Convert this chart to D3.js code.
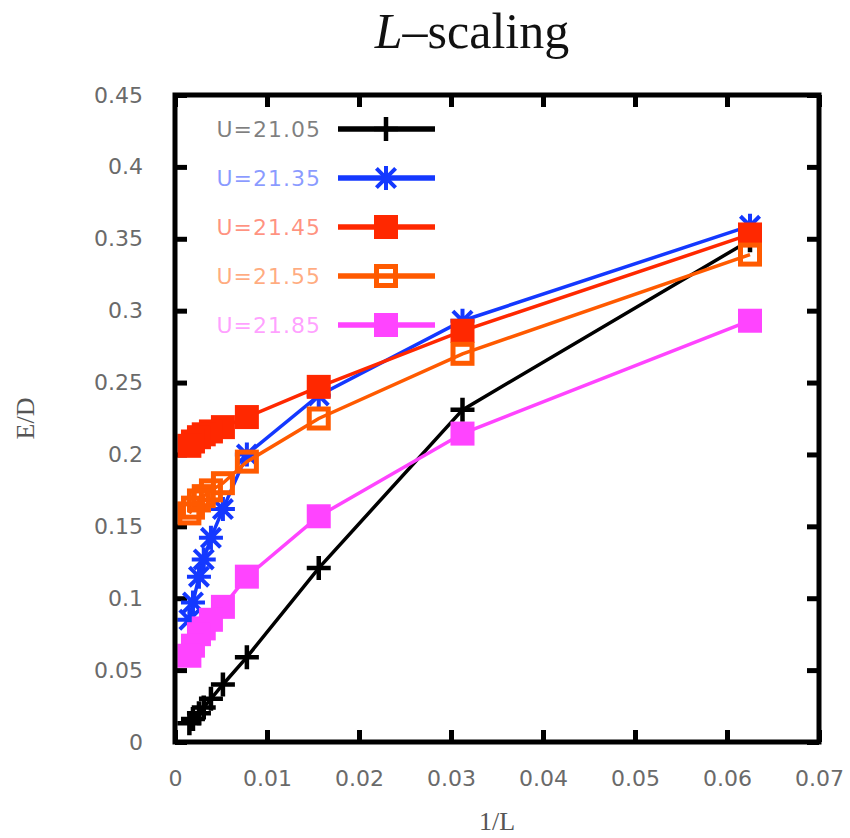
<!DOCTYPE html>
<html>
<head>
<meta charset="utf-8">
<script src="https://cdn.jsdelivr.net/npm/d3@7/dist/d3.min.js"></script>
<style>
  body { margin: 0; background: #ffffff; }
  svg { display: block; }
</style>
</head>
<body>
<svg id="chart" width="850" height="838"></svg>
<script>
// System sizes L; the x axis shows 1/L
const sizes = [16, 32, 64, 128, 192, 256, 320, 384, 512, 640];

// One value list per interaction strength
const seriesNames   = ["U=21.05", "U=21.35", "U=21.45", "U=21.55", "U=21.85"];
const seriesColors  = ["#000000", "#1438ff", "#ff2800", "#ff5a00", "#ff44ff"];
const seriesMarkers = ["plus", "star", "filledSquare", "openSquare", "filledSquare"];

const valuesU2105 = [0.349, 0.231, 0.121, 0.059, 0.040, 0.030, 0.024, 0.020, 0.016, 0.013];
const valuesU2135 = [0.359, 0.293, 0.241, 0.200, 0.162, 0.142, 0.127, 0.115, 0.097, 0.085];
const valuesU2145 = [0.353, 0.286, 0.247, 0.226, 0.219, 0.216, 0.214, 0.212, 0.209, 0.206];
const valuesU2155 = [0.339, 0.270, 0.225, 0.195, 0.180, 0.175, 0.171, 0.168, 0.163, 0.159];
const valuesU2185 = [0.293, 0.2145, 0.157, 0.115, 0.094, 0.085, 0.079, 0.075, 0.067, 0.060];
const seriesValues = [valuesU2105, valuesU2135, valuesU2145, valuesU2155, valuesU2185];

const xTicks = [0, 0.01, 0.02, 0.03, 0.04, 0.05, 0.06, 0.07];
const yTicks = [0, 0.05, 0.1, 0.15, 0.2, 0.25, 0.3, 0.35, 0.4, 0.45];

const titleMain = "L";
const titleRest = "\u2013scaling";
const xLabel = "1/L";
const yLabel = "E/D";

// Plot frame
const plot = { left: 175, right: 819, top: 95, bottom: 742 };

const svg = d3.select("#chart");

const x = d3.scaleLinear().domain([0, 0.07]).range([plot.left, plot.right]);
const y = d3.scaleLinear().domain([0, 0.45]).range([plot.bottom, plot.top]);

const fmt = t => String(+t.toFixed(2));
const tickFont = "DejaVu Sans, sans-serif";
const tickLen = 12;

// Axes with inward ticks, mirrored on top and right
function styleAxis(g, labels) {
  g.select(".domain").remove();
  g.selectAll(".tick line").attr("stroke", "#000").attr("stroke-width", 5);
  g.selectAll(".tick text")
    .attr("fill", labels ? "#6a6a6a" : "none")
    .style("font-family", tickFont)
    .style("font-size", "22px");
}

svg.append("g")
  .attr("transform", `translate(0,${plot.bottom})`)
  .call(d3.axisBottom(x).tickValues(xTicks).tickFormat(fmt).tickSizeInner(-tickLen).tickSizeOuter(0).tickPadding(tickLen + 16))
  .call(g => styleAxis(g, true));

svg.append("g")
  .attr("transform", `translate(0,${plot.top})`)
  .call(d3.axisTop(x).tickValues(xTicks).tickFormat("").tickSizeInner(-tickLen).tickSizeOuter(0))
  .call(g => styleAxis(g, false));

svg.append("g")
  .attr("transform", `translate(${plot.left},0)`)
  .call(d3.axisLeft(y).tickValues(yTicks).tickFormat(fmt).tickSizeInner(-tickLen).tickSizeOuter(0).tickPadding(tickLen + 20))
  .call(g => styleAxis(g, true));

svg.append("g")
  .attr("transform", `translate(${plot.right},0)`)
  .call(d3.axisRight(y).tickValues(yTicks).tickFormat("").tickSizeInner(-tickLen).tickSizeOuter(0))
  .call(g => styleAxis(g, false));

// Data layer, clipped to the frame
svg.append("clipPath").attr("id", "plot-clip")
  .append("rect")
  .attr("x", plot.left).attr("y", plot.top)
  .attr("width", plot.right - plot.left).attr("height", plot.bottom - plot.top);

const dataLayer = svg.append("g").attr("clip-path", "url(#plot-clip)");

const lineWidth = 3.5;
const markSize = 12;

function drawMarker(g, kind, cx, cy, color) {
  const s = markSize;
  if (kind === "plus") {
    g.append("path")
      .attr("d", `M${cx - s},${cy}H${cx + s}M${cx},${cy - s}V${cy + s}`)
      .attr("stroke", color).attr("stroke-width", 4.5).attr("fill", "none");
  } else if (kind === "star") {
    const d = s * 0.8;
    g.append("path")
      .attr("d", `M${cx - s},${cy}H${cx + s}M${cx},${cy - s}V${cy + s}` +
                 `M${cx - d},${cy - d}L${cx + d},${cy + d}M${cx - d},${cy + d}L${cx + d},${cy - d}`)
      .attr("stroke", color).attr("stroke-width", 4).attr("fill", "none");
  } else if (kind === "filledSquare") {
    g.append("rect")
      .attr("x", cx - s).attr("y", cy - s).attr("width", 2 * s).attr("height", 2 * s)
      .attr("fill", color);
  } else if (kind === "openSquare") {
    g.append("rect")
      .attr("x", cx - s + 2.5).attr("y", cy - s + 2.5).attr("width", 2 * s - 5).attr("height", 2 * s - 5)
      .attr("fill", "none").attr("stroke", color).attr("stroke-width", 5);
  }
}

const line = d3.line().x(d => x(d[0])).y(d => y(d[1]));

seriesValues.forEach((vals, i) => {
  const pts = sizes.map((L, k) => [1 / L, vals[k]]);
  const g = dataLayer.append("g");
  g.append("path")
    .datum(pts)
    .attr("d", line)
    .attr("fill", "none")
    .attr("stroke", seriesColors[i])
    .attr("stroke-width", lineWidth);
  pts.forEach(p => drawMarker(g, seriesMarkers[i], x(p[0]), y(p[1]), seriesColors[i]));
});

// Frame drawn over the data
svg.append("rect")
  .attr("x", plot.left).attr("y", plot.top)
  .attr("width", plot.right - plot.left).attr("height", plot.bottom - plot.top)
  .attr("fill", "none").attr("stroke", "#000").attr("stroke-width", 5);

// Legend (upper left, inside the frame)
const legend = svg.append("g");
const legendTop = 129, legendStep = 49;
seriesNames.forEach((name, i) => {
  const ly = legendTop + i * legendStep;
  legend.append("text")
    .attr("x", 321).attr("y", ly + 8)
    .attr("text-anchor", "end")
    .attr("fill", seriesColors[i])
    .attr("fill-opacity", 0.5)
    .style("font-family", tickFont)
    .style("font-size", "22px")
    .style("letter-spacing", "1px")
    .text(name);
  legend.append("line")
    .attr("x1", 338).attr("x2", 435).attr("y1", ly).attr("y2", ly)
    .attr("stroke", seriesColors[i]).attr("stroke-width", 5.5);
  drawMarker(legend, seriesMarkers[i], 386, ly, seriesColors[i]);
});

// Title
const title = svg.append("text")
  .attr("x", 472).attr("y", 48)
  .attr("text-anchor", "middle")
  .style("font-family", "Liberation Serif, serif")
  .style("font-size", "50px")
  .attr("fill", "#111");
title.append("tspan").style("font-style", "italic").text(titleMain);
title.append("tspan").text(titleRest);

// Axis labels
svg.append("text")
  .attr("x", (plot.left + plot.right) / 2).attr("y", 830)
  .attr("text-anchor", "middle")
  .style("font-family", "Liberation Serif, serif")
  .style("font-size", "26px")
  .attr("fill", "#555")
  .text(xLabel);

svg.append("text")
  .attr("transform", `translate(34,${(plot.top + plot.bottom) / 2}) rotate(-90)`)
  .attr("text-anchor", "middle")
  .style("font-family", "Liberation Serif, serif")
  .style("font-size", "26px")
  .attr("fill", "#555")
  .text(yLabel);
</script>
</body>
</html>
